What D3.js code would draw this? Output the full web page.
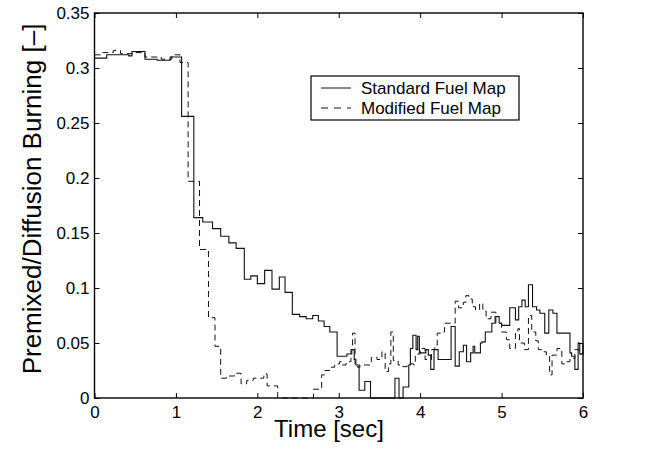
<!DOCTYPE html>
<html>
<head>
<meta charset="utf-8">
<script src="https://cdn.jsdelivr.net/npm/d3@7"></script>
<style>
  body { margin: 0; background: #fff; }
  text { font-family: "Liberation Sans", Arial, Helvetica, sans-serif; fill: #000; }
</style>
</head>
<body>
<svg id="chart"></svg>
<script>
// Standard fuel map (solid)
var stdTime = [0, 0.15, 0.42, 0.46, 0.62, 0.77, 0.93, 1.07, 1.22, 1.33, 1.45, 1.55, 1.65, 1.74, 1.84, 1.92,
  2.00, 2.09, 2.18, 2.27, 2.34, 2.43, 2.52, 2.60, 2.68, 2.75, 2.82, 2.89, 2.98, 3.10, 3.16, 3.19, 3.21,
  3.25, 3.32, 3.39, 3.69, 3.74, 3.79, 3.86, 3.88, 3.91, 3.95, 3.97, 3.99, 4.07, 4.10, 4.13, 4.17, 4.22,
  4.38, 4.43, 4.48, 4.53, 4.57, 4.62, 4.65, 4.67, 4.74, 4.76, 4.80, 4.88, 4.92, 4.97, 5.00, 5.10, 5.17,
  5.21, 5.25, 5.29, 5.33, 5.38, 5.43, 5.47, 5.53, 5.58, 5.63, 5.68, 5.84, 5.86, 5.90, 5.94, 5.96, 6.00];
var stdValue = [0.309, 0.312, 0.311, 0.315, 0.308, 0.307, 0.310, 0.256, 0.164, 0.160, 0.154, 0.147, 0.141, 0.136, 0.108, 0.111,
  0.104, 0.116, 0.099, 0.110, 0.096, 0.076, 0.074, 0.072, 0.075, 0.070, 0.065, 0.060, 0.038, 0.040, 0.044, 0.035, 0.030,
  0.007, 0.015, 0, 0.018, 0, 0.010, 0.030, 0.045, 0.057, 0.044, 0.056, 0.041, 0.044, 0.039, 0.026, 0.044, 0.035,
  0.065, 0.029, 0.042, 0.048, 0.033, 0.041, 0.047, 0.041, 0.050, 0.051, 0.060, 0.068, 0.074, 0.068, 0.066, 0.082, 0.071,
  0.083, 0.089, 0.083, 0.103, 0.083, 0.080, 0.077, 0.059, 0.080, 0.077, 0.059, 0.041, 0.038, 0.026, 0.050, 0.040, 0.050];

// Modified fuel map (dashed)
var modTime = [0, 0.10, 0.23, 0.32, 0.48, 0.62, 0.82, 0.95, 1.05, 1.15, 1.29, 1.40, 1.48, 1.55, 1.62, 1.72,
  1.80, 1.87, 1.95, 2.08, 2.12, 2.25, 2.69, 2.79, 2.83, 2.89, 2.95, 3.01, 3.03, 3.09, 3.15, 3.17, 3.20,
  3.23, 3.26, 3.34, 3.40, 3.47, 3.53, 3.57, 3.61, 3.64, 3.67, 3.73, 3.76, 3.84, 3.92, 3.94, 4.00, 4.06,
  4.14, 4.18, 4.21, 4.25, 4.30, 4.38, 4.43, 4.47, 4.53, 4.56, 4.60, 4.64, 4.68, 4.73, 4.77, 4.81, 4.87,
  4.93, 5.00, 5.06, 5.10, 5.17, 5.20, 5.22, 5.28, 5.33, 5.37, 5.42, 5.45, 5.50, 5.55, 5.59, 5.62, 5.68,
  5.74, 5.80, 5.84, 5.90, 5.95, 6.00];
var modValue = [0.312, 0.314, 0.316, 0.313, 0.314, 0.310, 0.308, 0.312, 0.305, 0.197, 0.135, 0.073, 0.047, 0.018, 0.020, 0.0225,
  0.013, 0.016, 0.018, 0.022, 0.011, 0, 0.008, 0.021, 0.025, 0.028, 0.031, 0.033, 0.030, 0.033, 0.044, 0.059, 0.031,
  0.028, 0.030, 0.030, 0.037, 0.035, 0.042, 0.024, 0.031, 0.060, 0.034, 0.030, 0.0285, 0.031, 0.030, 0.040, 0.045, 0.035,
  0.044, 0.048, 0.059, 0.060, 0.068, 0.068, 0.088, 0.082, 0.087, 0.093, 0.090, 0.083, 0.080, 0.086, 0.079, 0.072, 0.078,
  0.068, 0.060, 0.053, 0.045, 0.059, 0.063, 0.050, 0.044, 0.075, 0.060, 0.052, 0.044, 0.042, 0.038, 0.021, 0.039, 0.045,
  0.031, 0.033, 0.036, 0.044, 0.040, 0.042];

var xTicks = [0, 1, 2, 3, 4, 5, 6];
var yTicks = [0, 0.05, 0.1, 0.15, 0.2, 0.25, 0.3, 0.35];
var legendLabels = ["Standard Fuel Map", "Modified Fuel Map"];

var width = 646, height = 449;
var margin = {left: 94.5, right: 583, top: 13, bottom: 398};

var svg = d3.select("#chart")
    .attr("width", width)
    .attr("height", height);

var x = d3.scaleLinear().domain([0, 6]).range([margin.left, margin.right]);
var y = d3.scaleLinear().domain([0, 0.35]).range([margin.bottom, margin.top]);

var stdData = stdTime.map((t, i) => [t, stdValue[i]]);
var modData = modTime.map((t, i) => [t, modValue[i]]);

var line = d3.line()
    .x(d => x(d[0]))
    .y(d => y(d[1]))
    .curve(d3.curveStepAfter);

svg.append("path")
    .datum(modData)
    .attr("d", line)
    .attr("fill", "none")
    .attr("stroke", "#111")
    .attr("stroke-width", 1)
    .attr("stroke-dasharray", "6,4");

svg.append("path")
    .datum(stdData)
    .attr("d", line)
    .attr("fill", "none")
    .attr("stroke", "#111")
    .attr("stroke-width", 1.1);

// axes with inward ticks on all sides
var fmt = d => d === 0 ? "0" : String(d);
svg.append("g")
    .attr("transform", `translate(0,${margin.bottom})`)
    .call(d3.axisBottom(x).tickValues(xTicks).tickSizeInner(-5).tickSizeOuter(0).tickPadding(8).tickFormat(fmt));
svg.append("g")
    .attr("transform", `translate(0,${margin.top})`)
    .call(d3.axisTop(x).tickValues(xTicks).tickSizeInner(-5).tickSizeOuter(0).tickFormat(""));
svg.append("g")
    .attr("transform", `translate(${margin.left},0)`)
    .call(d3.axisLeft(y).tickValues(yTicks).tickSizeInner(-5).tickSizeOuter(0).tickPadding(5).tickFormat(fmt));
svg.append("g")
    .attr("transform", `translate(${margin.right},0)`)
    .call(d3.axisRight(y).tickValues(yTicks).tickSizeInner(-5).tickSizeOuter(0).tickFormat(""));

svg.selectAll(".domain").remove();
svg.selectAll(".tick line").attr("stroke", "#000").attr("stroke-width", 1);
svg.selectAll(".tick text")
    .style("font-family", "'Liberation Sans', Arial, sans-serif")
    .style("font-size", "17px")
    .attr("fill", "#000");

svg.append("rect")
    .attr("x", margin.left).attr("y", margin.top)
    .attr("width", margin.right - margin.left).attr("height", margin.bottom - margin.top)
    .attr("fill", "none")
    .attr("stroke", "#000")
    .attr("stroke-width", 1.4);

// legend
var legend = svg.append("g").attr("transform", "translate(311,76)");
legend.append("rect")
    .attr("width", 208).attr("height", 44)
    .attr("fill", "#fff").attr("stroke", "#000").attr("stroke-width", 1.2);
legendLabels.forEach(function(label, i) {
    var ly = 12 + i * 20;
    legend.append("line")
        .attr("x1", 10).attr("x2", 40).attr("y1", ly).attr("y2", ly)
        .attr("stroke", "#111").attr("stroke-width", 1)
        .attr("stroke-dasharray", i === 1 ? "7,6" : null);
    legend.append("text")
        .attr("x", 50).attr("y", ly + 6)
        .style("font-size", "17px")
        .text(label);
});

// axis titles
svg.append("text")
    .attr("x", 329).attr("y", 437)
    .attr("text-anchor", "middle")
    .style("font-size", "24px")
    .text("Time [sec]");

svg.append("text")
    .attr("transform", "translate(41,199) rotate(-90)")
    .attr("text-anchor", "middle")
    .style("font-size", "26px")
    .text("Premixed/Diffusion Burning [–]");
</script>
</body>
</html>
